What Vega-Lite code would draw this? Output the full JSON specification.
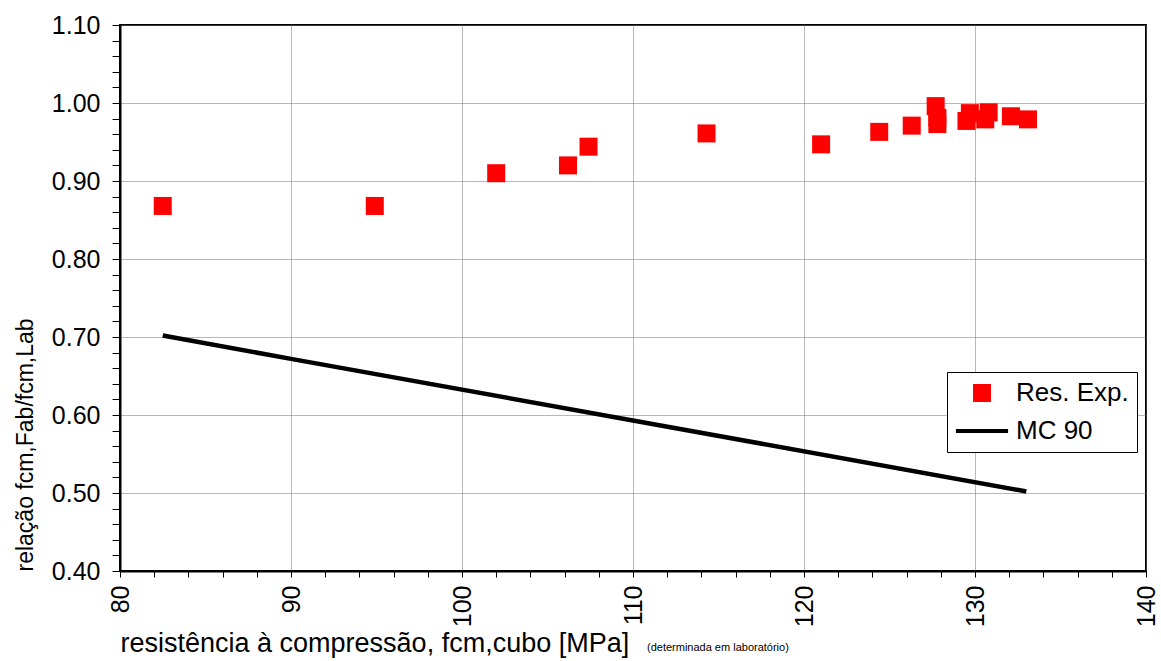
{
  "$schema": "https://vega.github.io/schema/vega-lite/v6.json",
  "width": 1026,
  "height": 546,
  "autosize": "none",
  "padding": {"left": 120, "top": 25, "right": 15, "bottom": 90},
  "background": "white",
  "title": {
    "text": "(determinada em laboratório)",
    "orient": "bottom", "anchor": "start", "frame": "group",
    "fontSize": 11, "fontWeight": "normal", "font": "Liberation Sans", "color": "black",
    "baseline": "alphabetic", "dx": 527, "dy": -6, "offset": 0
  },
  "config": {
    "view": {"stroke": "black", "strokeWidth": 2},
    "font": "Liberation Sans",
    "axis": {
      "labelFont": "Liberation Sans",
      "titleFont": "Liberation Sans",
      "labelColor": "black",
      "titleColor": "black",
      "tickColor": "black",
      "domainColor": "black",
      "titleFontWeight": "normal"
    },
    "legend": {
      "labelFont": "Liberation Sans",
      "labelColor": "black"
    }
  },
  "datasets": {
    "exp": [
      {"fcm": 82.5, "ratio": 0.868, "series": "Res. Exp."},
      {"fcm": 94.9, "ratio": 0.868, "series": "Res. Exp."},
      {"fcm": 102.0, "ratio": 0.910, "series": "Res. Exp."},
      {"fcm": 106.2, "ratio": 0.920, "series": "Res. Exp."},
      {"fcm": 107.4, "ratio": 0.944, "series": "Res. Exp."},
      {"fcm": 114.3, "ratio": 0.961, "series": "Res. Exp."},
      {"fcm": 121.0, "ratio": 0.947, "series": "Res. Exp."},
      {"fcm": 124.4, "ratio": 0.963, "series": "Res. Exp."},
      {"fcm": 126.3, "ratio": 0.971, "series": "Res. Exp."},
      {"fcm": 127.7, "ratio": 0.996, "series": "Res. Exp."},
      {"fcm": 127.8, "ratio": 0.981, "series": "Res. Exp."},
      {"fcm": 127.8, "ratio": 0.973, "series": "Res. Exp."},
      {"fcm": 129.5, "ratio": 0.977, "series": "Res. Exp."},
      {"fcm": 129.7, "ratio": 0.987, "series": "Res. Exp."},
      {"fcm": 130.6, "ratio": 0.979, "series": "Res. Exp."},
      {"fcm": 130.8, "ratio": 0.988, "series": "Res. Exp."},
      {"fcm": 132.1, "ratio": 0.983, "series": "Res. Exp."},
      {"fcm": 133.1, "ratio": 0.979, "series": "Res. Exp."}
    ],
    "mc90": [
      {"fcm": 82.5, "ratio": 0.702},
      {"fcm": 90.0, "ratio": 0.672},
      {"fcm": 133.0, "ratio": 0.502}
    ]
  },
  "layer": [
    {
      "data": {"name": "mc90"},
      "mark": {"type": "line", "color": "black", "strokeWidth": 4.5},
      "encoding": {
        "x": {"field": "fcm", "type": "quantitative"},
        "y": {"field": "ratio", "type": "quantitative"}
      }
    },
    {
      "data": {"name": "exp"},
      "mark": {"type": "point", "filled": true, "opacity": 1, "size": 324},
      "encoding": {
        "x": {"field": "fcm", "type": "quantitative"},
        "y": {"field": "ratio", "type": "quantitative"},
        "color": {
          "field": "series", "type": "nominal",
          "scale": {"domain": ["Res. Exp.", "MC 90"], "range": ["#ff0000", "#000000"]},
          "legend": {
            "title": null, "orient": "none", "legendX": 827, "legendY": 347,
            "strokeColor": "black", "fillColor": "white", "padding": 8,
            "labelFontSize": 26, "symbolSize": 324, "rowPadding": 12,
            "symbolOffset": 14, "labelOffset": 21, "symbolStrokeWidth": 0
          }
        },
        "shape": {
          "field": "series", "type": "nominal",
          "scale": {"domain": ["Res. Exp.", "MC 90"], "range": ["square", "M-2.9,-0.22H2.9V0.22H-2.9Z"]},
          "legend": {
            "title": null, "orient": "none", "legendX": 827, "legendY": 347,
            "strokeColor": "black", "fillColor": "white", "padding": 8,
            "labelFontSize": 26, "symbolSize": 324, "rowPadding": 12,
            "symbolOffset": 14, "labelOffset": 21, "symbolStrokeWidth": 0
          }
        }
      }
    }
  ],
  "encoding": {
    "x": {
      "field": "fcm", "type": "quantitative",
      "scale": {"domain": [80, 140], "nice": false, "zero": false},
      "axis": {
        "orient": "bottom",
        "values": [80, 82, 84, 86, 88, 90, 92, 94, 96, 98, 100, 102, 104, 106, 108, 110, 112, 114, 116, 118, 120, 122, 124, 126, 128, 130, 132, 134, 136, 138, 140],
        "labelExpr": "datum.value % 10 == 0 ? datum.label : ''",
        "labelAngle": 270, "labelFontSize": 25, "labelPadding": 8,
        "labelFlush": false, "labelOverlap": false,
        "tickSize": 6, "tickWidth": 1,
        "grid": true, "gridColor": "#707070", "gridDash": [1, 1], "gridWidth": 1,
        "gridOpacity": {"condition": {"test": "datum.value % 10 == 0", "value": 1}, "value": 0},
        "domainWidth": 2,
        "title": "resistência à compressão, fcm,cubo [MPa]",
        "titleFontSize": 27, "titleAnchor": "start", "titleAlign": "left", "titlePadding": 4
      }
    },
    "y": {
      "field": "ratio", "type": "quantitative",
      "scale": {"domain": [0.4, 1.1], "nice": false, "zero": false},
      "axis": {
        "orient": "left",
        "values": [0.4, 0.42, 0.44, 0.46, 0.48, 0.5, 0.52, 0.54, 0.56, 0.58, 0.6, 0.62, 0.64, 0.66, 0.68, 0.7, 0.72, 0.74, 0.76, 0.78, 0.8, 0.82, 0.84, 0.86, 0.88, 0.9, 0.92, 0.94, 0.96, 0.98, 1.0, 1.02, 1.04, 1.06, 1.08, 1.1],
        "labelExpr": "abs(datum.value * 10 - round(datum.value * 10)) < 0.001 ? format(datum.value, '.2f') : ''",
        "labelFontSize": 25, "labelPadding": 12,
        "labelFlush": false, "labelOverlap": false,
        "tickSize": 8, "tickWidth": 1,
        "grid": true, "gridColor": "#707070", "gridDash": [1, 1], "gridWidth": 1,
        "gridOpacity": {"condition": {"test": "abs(datum.value * 10 - round(datum.value * 10)) < 0.001", "value": 1}, "value": 0},
        "domainWidth": 2,
        "title": "relação fcm,Fab/fcm,Lab",
        "titleFontSize": 23, "titleAnchor": "start", "titlePadding": 14
      }
    }
  }
}
